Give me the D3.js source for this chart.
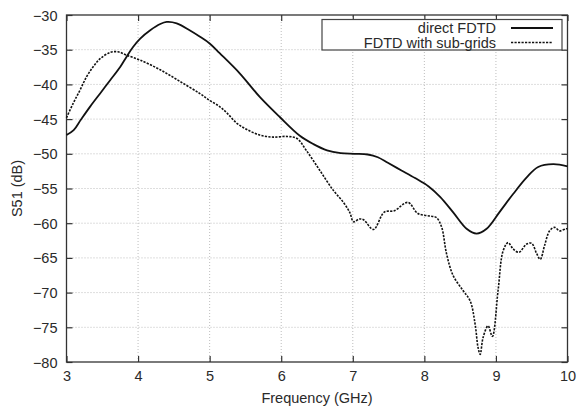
<!DOCTYPE html>
<html>
<head>
<meta charset="utf-8">
<script src="https://cdn.jsdelivr.net/npm/d3@7"></script>
<style>
  html, body { margin: 0; padding: 0; background: #fff; }
  svg { display: block; font-family: "Liberation Sans", Arial, Helvetica, sans-serif; }
</style>
</head>
<body>
<svg id="chart" width="578" height="409"></svg>
<script>
// Simulated S51 response: direct FDTD vs. FDTD with sub-grids
const freqDirect = [3.00, 3.10, 3.20, 3.33, 3.47, 3.61, 3.75, 3.84, 3.93, 4.03, 4.17, 4.31, 4.40, 4.54, 4.72, 4.86, 5.00, 5.14, 5.42, 5.70, 5.98, 6.26, 6.45, 6.64, 6.83, 7.02, 7.21, 7.35, 7.49, 7.68, 7.87, 8.06, 8.22, 8.40, 8.59, 8.73, 8.87, 9.05, 9.24, 9.43, 9.59, 9.80, 10.00];
const s51Direct  = [-47.3, -46.6, -45.1, -43.2, -41.3, -39.4, -37.5, -36.0, -34.6, -33.4, -32.2, -31.3, -31.0, -31.2, -32.2, -33.1, -34.1, -35.5, -38.4, -41.8, -44.7, -47.4, -48.6, -49.5, -49.9, -50.0, -50.1, -50.5, -51.3, -52.4, -53.5, -54.7, -56.2, -58.4, -60.8, -61.5, -60.8, -58.4, -55.8, -53.4, -51.9, -51.5, -51.8];

const freqSub = [3.00, 3.09, 3.19, 3.28, 3.37, 3.47, 3.61, 3.72, 3.84, 4.03, 4.31, 4.59, 4.86, 5.00, 5.14, 5.25, 5.38, 5.52, 5.70, 5.89, 6.08, 6.22, 6.35, 6.54, 6.73, 6.87, 6.96, 7.01, 7.09, 7.15, 7.29, 7.44, 7.58, 7.77, 7.91, 8.10, 8.17, 8.24, 8.31, 8.40, 8.54, 8.64, 8.71, 8.75, 8.78, 8.82, 8.89, 8.95, 9.03, 9.10, 9.17, 9.24, 9.32, 9.43, 9.50, 9.57, 9.62, 9.68, 9.75, 9.82, 9.89, 9.98, 10.00];
const s51Sub  = [-44.8, -42.8, -40.8, -38.9, -37.5, -36.3, -35.4, -35.3, -35.8, -36.5, -37.9, -39.6, -41.3, -42.3, -43.2, -44.2, -45.6, -46.5, -47.3, -47.6, -47.5, -47.8, -49.5, -52.4, -55.3, -57.0, -58.5, -59.8, -59.4, -59.5, -60.9, -58.4, -58.2, -57.0, -58.6, -59.0, -59.2, -60.5, -64.4, -67.5, -69.7, -71.2, -74.6, -77.9, -78.9, -76.5, -74.8, -76.3, -69.7, -64.0, -62.8, -63.7, -64.2, -63.0, -62.9, -64.4, -65.2, -63.2, -61.1, -60.6, -61.1, -60.8, -60.8];

const xTicks = [3, 4, 5, 6, 7, 8, 9, 10];
const yTicks = [-30, -35, -40, -45, -50, -55, -60, -65, -70, -75, -80];
const seriesNames = ["direct FDTD", "FDTD with sub-grids"];

const margin = { left: 66.5, right: 10.5, top: 15, bottom: 47 };
const W = 578, H = 409;
const svg = d3.select("#chart");

const x = d3.scaleLinear().domain([3, 10]).range([margin.left, W - margin.right]);
const y = d3.scaleLinear().domain([-80, -30]).range([H - margin.bottom, margin.top]);

const textColor = "#2a2a2a";
const frameColor = "#333";
const fontSize = 14.5;

// grid
const grid = svg.append("g").attr("stroke", "#bdbdbd").attr("stroke-width", 1).attr("stroke-dasharray", "1,2");
xTicks.slice(1, -1).forEach(v => grid.append("line")
  .attr("x1", x(v)).attr("x2", x(v)).attr("y1", y(-80)).attr("y2", y(-30)));
yTicks.slice(1, -1).forEach(v => grid.append("line")
  .attr("x1", x(3)).attr("x2", x(10)).attr("y1", y(v)).attr("y2", y(v)));

// axes with inward ticks on all four sides
const tickLen = 6;
const axBottom = svg.append("g").attr("transform", `translate(0,${y(-80)})`)
  .call(d3.axisBottom(x).tickValues(xTicks).tickSizeInner(-tickLen).tickSizeOuter(0).tickPadding(9).tickFormat(d3.format("d")));
const axTop = svg.append("g").attr("transform", `translate(0,${y(-30)})`)
  .call(d3.axisTop(x).tickValues(xTicks).tickSizeInner(-tickLen).tickSizeOuter(0).tickFormat(""));
const axLeft = svg.append("g").attr("transform", `translate(${x(3)},0)`)
  .call(d3.axisLeft(y).tickValues(yTicks).tickSizeInner(-tickLen).tickSizeOuter(0).tickPadding(9).tickFormat(d3.format("d")));
const axRight = svg.append("g").attr("transform", `translate(${x(10)},0)`)
  .call(d3.axisRight(y).tickValues(yTicks).tickSizeInner(-tickLen).tickSizeOuter(0).tickFormat(""));

[axBottom, axTop, axLeft, axRight].forEach(g => {
  g.select(".domain").remove();
  g.selectAll(".tick line").attr("stroke", frameColor).attr("stroke-width", 1.2);
  g.selectAll(".tick text").attr("fill", textColor).attr("font-size", fontSize)
    .attr("font-family", "Liberation Sans, Arial, sans-serif");
});
axLeft.selectAll(".tick text").attr("dy", "0.35em");

// frame
svg.append("rect")
  .attr("x", x(3)).attr("y", y(-30))
  .attr("width", x(10) - x(3)).attr("height", y(-80) - y(-30))
  .attr("fill", "none").attr("stroke", frameColor).attr("stroke-width", 1.3);

// curves
const line = d3.line().curve(d3.curveCatmullRom.alpha(0.5))
  .x(d => x(d[0])).y(d => y(d[1]));

const directPts = freqDirect.map((f, i) => [f, s51Direct[i]]);
const subPts = freqSub.map((f, i) => [f, s51Sub[i]]);

svg.append("path").datum(subPts).attr("d", line)
  .attr("fill", "none").attr("stroke", "#111").attr("stroke-width", 1.6)
  .attr("stroke-dasharray", "2.2,1.3");
svg.append("path").datum(directPts).attr("d", line)
  .attr("fill", "none").attr("stroke", "#111").attr("stroke-width", 1.8);

// legend
const legend = svg.append("g");
legend.append("rect")
  .attr("x", 322).attr("y", 19.5).attr("width", 240).attr("height", 30.5)
  .attr("fill", "#fff").attr("stroke", "#444").attr("stroke-width", 1.2);
const dashes = [null, "2.2,1.3"];
seriesNames.forEach((name, i) => {
  const ly = 28 + i * 14.5;
  legend.append("text").attr("x", 496).attr("y", ly).attr("dy", "0.35em")
    .attr("text-anchor", "end").attr("font-size", fontSize).attr("fill", textColor).text(name);
  legend.append("line").attr("x1", 511).attr("x2", 553).attr("y1", ly).attr("y2", ly)
    .attr("stroke", "#111").attr("stroke-width", i ? 1.6 : 1.8)
    .attr("stroke-dasharray", dashes[i]);
});

// axis titles
svg.append("text").attr("x", (x(3) + x(10)) / 2).attr("y", 398).attr("dy", "0.35em")
  .attr("text-anchor", "middle").attr("font-size", fontSize).attr("fill", textColor)
  .text("Frequency (GHz)");
svg.append("text").attr("transform", `translate(17,${(y(-30) + y(-80)) / 2}) rotate(-90)`)
  .attr("dy", "0.35em").attr("text-anchor", "middle").attr("font-size", fontSize).attr("fill", textColor)
  .text("S51 (dB)");
</script>
</body>
</html>
